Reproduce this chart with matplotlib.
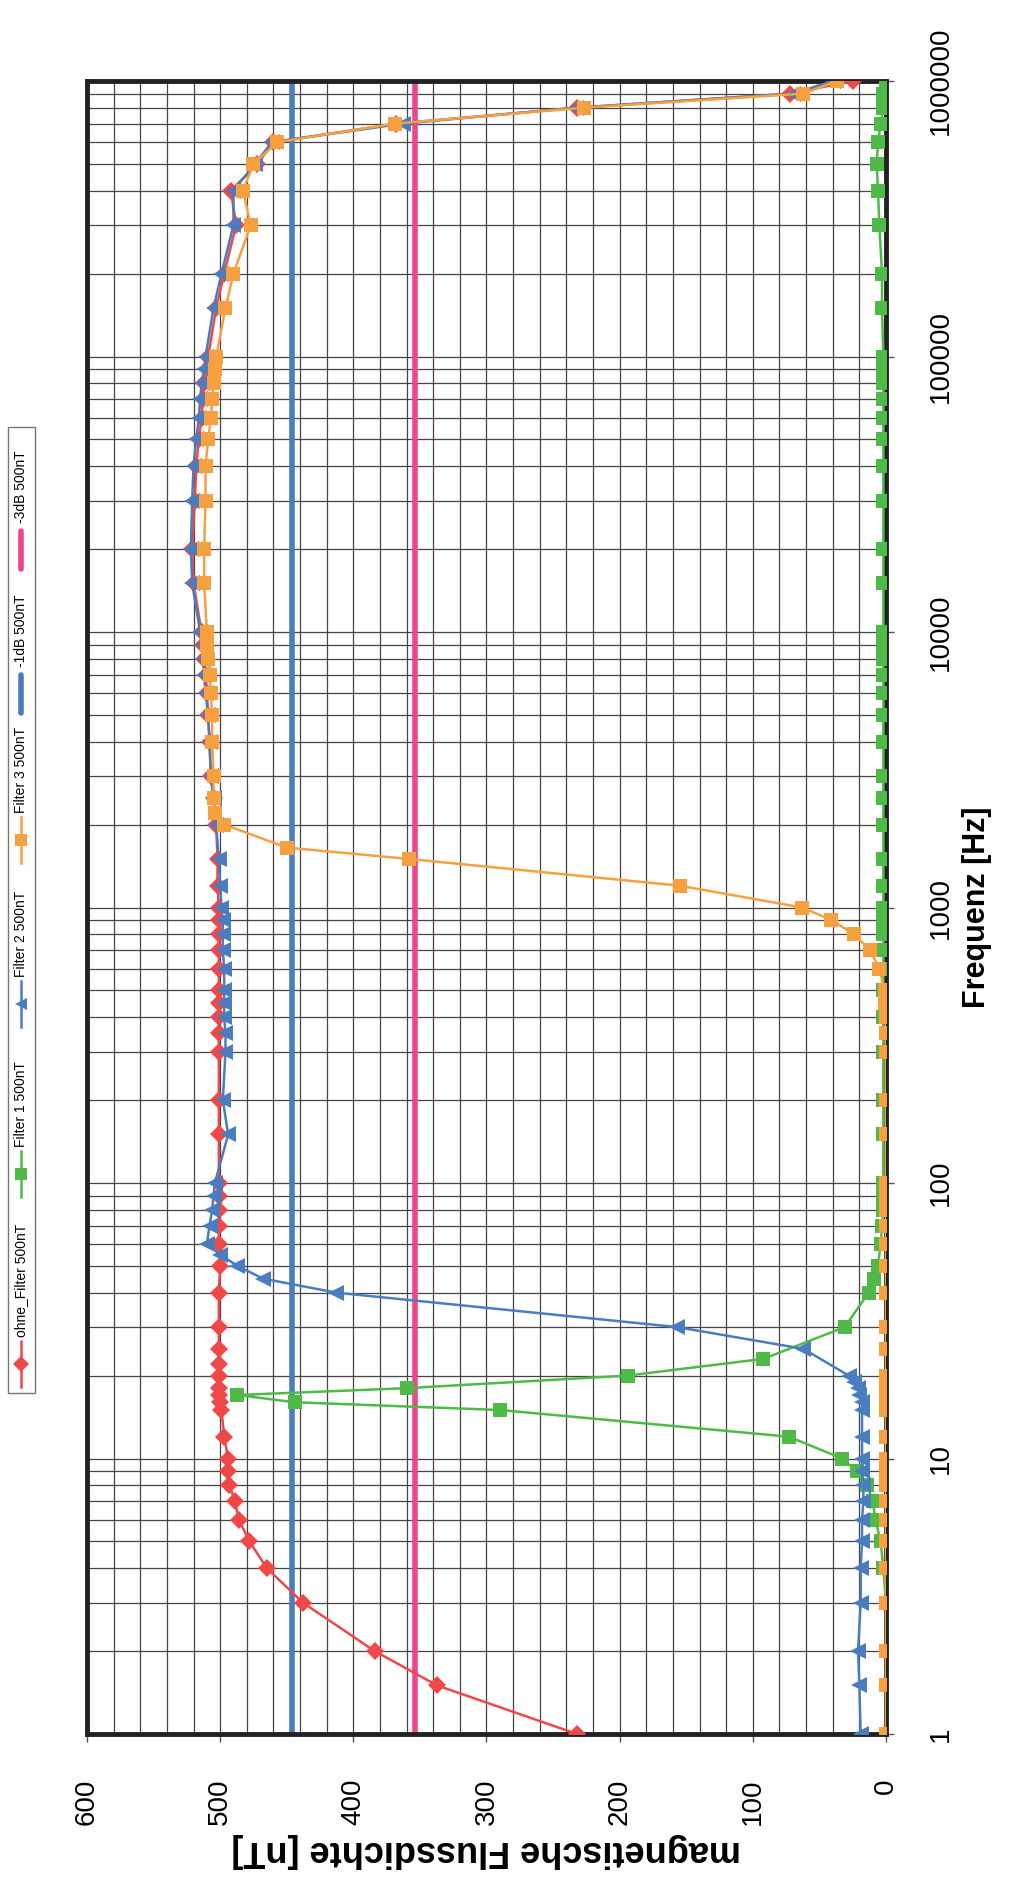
import matplotlib
matplotlib.use("Agg")
from matplotlib import pyplot as plt
from matplotlib import ticker
from matplotlib.lines import Line2D
from matplotlib.patches import Rectangle

plt.rcParams['font.family'] = ['Liberation Sans', 'DejaVu Sans']

# frequencies [Hz] and flux density [nT] per series
f_ohne = [1, 1.5, 2, 3, 4, 5, 6, 7, 8, 9, 10, 12, 15, 16, 17, 18, 20, 22, 25, 30, 40, 50,
          60, 70, 80, 90, 100, 150, 200, 300, 350, 400, 450, 500, 600, 700, 800, 900,
          1000, 1200, 1500, 2000, 2500, 3000, 4000, 5000, 6000, 7000, 8000, 9000,
          10000, 15000, 20000, 30000, 40000, 50000, 60000, 70000, 80000, 90000,
          100000, 150000, 200000, 300000, 400000, 500000, 600000, 700000, 800000,
          900000, 1000000]
b_ohne = [232, 337, 384, 438, 465, 478, 486, 489, 493, 494, 494, 497, 499, 500, 501, 501, 501, 501, 501, 501, 501, 500,
          501, 501, 501, 501, 501, 501, 501, 501, 501, 501, 501, 501, 501, 501, 501, 501,
          501, 502, 502, 503, 505, 507, 508, 509, 510, 511, 512, 513,
          514, 520, 521, 519, 518, 516, 514, 513, 512, 510,
          509, 503, 497, 488, 492, 472, 460, 368, 232,
          72, 25]

f_filter1 = [1, 1.5, 2, 3, 4, 5, 6, 7, 8, 9, 10, 12, 15, 16, 17, 18, 20, 23, 30, 40, 45, 50,
             60, 70, 80, 90, 100, 150, 200, 300, 400, 500, 600, 700, 800, 900,
             1000, 1200, 1500, 2000, 2500, 3000, 4000, 5000, 6000, 7000, 8000, 9000,
             10000, 15000, 20000, 30000, 40000, 50000, 60000, 70000, 80000, 90000,
             100000, 150000, 200000, 300000, 400000, 500000, 600000, 700000, 800000,
             900000, 1000000]
b_filter1 = [0, 0, 0, 0, 2, 4, 8, 10, 14, 22, 33, 73, 290, 444, 487, 360, 194, 92, 31, 13, 9, 6,
             4, 3, 2, 2, 2, 2, 2, 2, 2, 2, 2, 2, 2, 2,
             2, 2, 2, 2, 2, 2, 2, 2, 2, 2, 2, 2,
             2, 2, 2, 2, 2, 2, 2, 2, 2, 2,
             2, 3, 3, 5, 6, 7, 6, 4, 2,
             2, 0]

f_filter2 = [1, 1.5, 2, 3, 4, 5, 6, 7, 8, 9, 10, 12, 15, 16, 17, 18, 19, 20, 25, 30, 40, 45,
             50, 55, 60, 70, 80, 90, 100, 150, 200, 300, 350, 400, 450, 500, 600, 700,
             800, 900, 1000, 1200, 1500, 2000, 2500, 3000, 4000, 5000, 6000, 7000,
             8000, 9000, 10000, 15000, 20000, 30000, 40000, 50000, 60000, 70000,
             80000, 90000, 100000, 150000, 200000, 300000, 400000, 500000, 600000,
             700000, 800000, 900000, 1000000]
b_filter2 = [19, 20, 21, 19, 19, 18, 18, 17, 17, 18, 18, 18, 18, 18, 20, 21, 24, 28, 62, 157, 413, 468,
             487, 500, 510, 508, 506, 505, 504, 494, 498, 496, 496, 497, 497, 497, 497, 498,
             498, 498, 499, 500, 501, 503, 505, 507, 508, 509, 511, 512,
             513, 514, 515, 521, 522, 521, 520, 518, 516, 515,
             514, 512, 511, 505, 499, 490, 490, 474, 461,
             363, 233, 70, 40]

f_filter3 = [1, 1.5, 2, 3, 4, 5, 6, 7, 8, 9, 10, 12, 15, 16, 17, 18, 20, 25, 30, 40, 50,
             60, 70, 80, 90, 100, 150, 200, 300, 350, 400, 450, 500, 600, 700, 800, 900,
             1000, 1200, 1500, 1650, 2000, 2200, 2500, 3000, 4000, 5000, 6000, 7000,
             8000, 9000, 10000, 15000, 20000, 30000, 40000, 50000, 60000, 70000,
             80000, 90000, 100000, 150000, 200000, 300000, 400000, 500000, 600000,
             700000, 800000, 900000, 1000000]
b_filter3 = [0, 0, 0, 0, 0, 0, 0, 0, 0, 0, 0, 0, 0, 0, 0, 0, 0, 0, 0, 0, 0,
             0, 0, 0, 0, 0, 0, 0, 0, 0, 0, 1, 1, 5, 12, 24, 41,
             63, 155, 358, 450, 497, 504, 505, 505, 506, 506, 507, 508,
             509, 510, 510, 512, 512, 511, 511, 509, 507, 506,
             505, 504, 503, 496, 490, 477, 483, 475, 457,
             369, 227, 62, 37]

minus_1db = 446
minus_3db = 354

value_ticks = [0, 100, 200, 300, 400, 500, 600]
freq_ticks = [1, 10, 100, 1000, 10000, 100000, 1000000]

series = [
    ('ohne_Filter 500nT', f_ohne, b_ohne, '#f04848', 'D', 9.5),
    ('Filter 1 500nT', f_filter1, b_filter1, '#4fba48', 's', 10),
    ('Filter 2 500nT', f_filter2, b_filter2, '#4a7cc0', '<', 11),
    ('Filter 3 500nT', f_filter3, b_filter3, '#f7a040', 's', 10),
]
c_1db = '#4a7cc0'
c_3db = '#f0448c'

W, H = 1026, 1894
fig = plt.figure(figsize=(W / 100, H / 100), dpi=100)
# chart is drawn turned by 90 degrees: nT runs right-to-left, frequency bottom-to-top
ax = fig.add_axes([87 / W, 1 - 1734 / H, (886 - 87) / W, (1734 - 81) / H])

ax.axvline(minus_1db, color=c_1db, lw=4, zorder=2)
ax.axvline(minus_3db, color=c_3db, lw=4, zorder=2)
for i, (name, f, b, col, mk, ms) in enumerate(series):
    ax.plot(b, f, color=col, lw=1.8, marker=mk, ms=ms, mec=col, mew=0, zorder=3 + i)

ax.set_xlim(600, 0)
ax.set_yscale('log')
ax.set_ylim(1, 1000000)

ax.set_xticks(value_ticks)
ax.set_xticklabels([str(v) for v in value_ticks], rotation=90, fontsize=20)
ax.xaxis.set_minor_locator(ticker.MultipleLocator(20))
ax.yaxis.tick_right()
ax.set_yticks(freq_ticks)
ax.set_yticklabels([str(v) for v in freq_ticks], rotation=90, va='center', fontsize=20)
ax.yaxis.set_minor_locator(ticker.LogLocator(base=10, subs=range(2, 10), numticks=20))
ax.yaxis.set_minor_formatter(ticker.NullFormatter())
ax.tick_params(axis='both', which='major', length=6, width=1, color='#555555')
ax.tick_params(axis='x', which='major', pad=26)
ax.tick_params(axis='y', which='major', pad=24)
ax.tick_params(axis='both', which='minor', length=0)

ax.grid(which='both', color='#444444', lw=0.9, zorder=1)
ax.set_axisbelow(True)
for s in ax.spines.values():
    s.set_linewidth(3.5)
    s.set_color('#222222')

ax.set_xlabel('magnetische Flussdichte [nT]', rotation=180, fontsize=26, fontweight='bold', labelpad=6)
ax.yaxis.set_label_position('right')
ax.set_ylabel('Frequenz [Hz]', rotation=90, fontsize=22, fontweight='bold', labelpad=6)

# vertical legend at the left edge
fig.add_artist(Rectangle((8 / W, 1 - 1393 / H), 27 / W, (1393 - 427) / H,
                         transform=fig.transFigure, fill=False, ec='#777777', lw=1))
legend_items = [(s[0], s[3], s[4], s[5]) for s in series] + \
               [('-1dB 500nT', c_1db, None, 0), ('-3dB 500nT', c_3db, None, 0)]
legend_start = [1387, 1197, 1027, 863, 717, 573]
lx = 21
for (name, col, mk, ms), y0 in zip(legend_items, legend_start):
    y1 = y0 - 46
    if mk is None:
        fig.add_artist(Line2D([lx / W, lx / W], [1 - (y0 - 4) / H, 1 - (y1 + 4) / H],
                              transform=fig.transFigure, color=col, lw=4, solid_capstyle='round'))
    else:
        fig.add_artist(Line2D([lx / W, lx / W], [1 - y0 / H, 1 - y1 / H],
                              transform=fig.transFigure, color=col, lw=1.8))
        fig.add_artist(Line2D([lx / W], [1 - (y0 + y1) / 2 / H], transform=fig.transFigure,
                              color=col, marker=mk, ms=ms * 0.85, mew=0))
    fig.text(lx / W, 1 - (y1 - 4) / H, name, rotation=90, ha='center', va='bottom', fontsize=10)

fig.savefig('out.png', dpi=100, facecolor='white')
